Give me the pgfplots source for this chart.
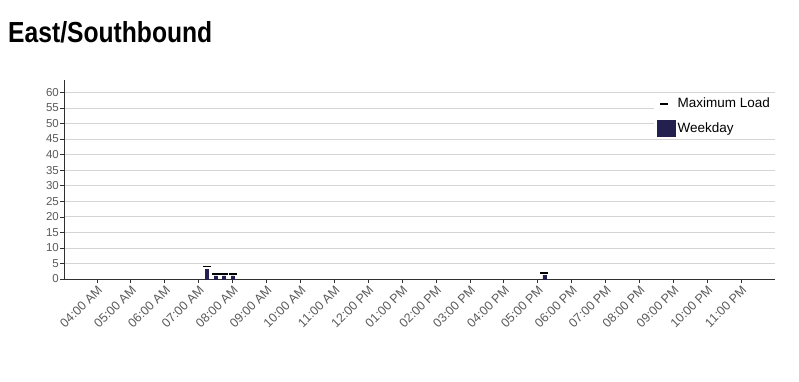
\documentclass[border=0pt]{standalone}
\usepackage{pgfplots}
\pgfplotsset{compat=1.18}
\usepackage{fontspec}
\setmainfont{Liberation Sans}
\definecolor{navy}{HTML}{23204F}
\definecolor{ticktext}{HTML}{5A5A5A}
\definecolor{gridc}{HTML}{D4D4D4}
\definecolor{axisc}{HTML}{303030}
\begin{document}
\begin{tikzpicture}
\path[use as bounding box] (0pt,0pt) rectangle (799pt,381pt);
\node[anchor=base west, inner sep=0pt] at (8pt,338pt) {\scalebox{0.85}[1]{\fontsize{29}{32}\selectfont\bfseries East/Southbound}};
\begin{axis}[
  at={(64pt,102pt)}, anchor=south west,
  scale only axis, width=711pt, height=199pt,
  xmin=3.03, xmax=24, ymin=0, ymax=64,
  axis lines=left, axis line style={axisc, line width=1pt, -},
  /pgf/number format/assume math mode=true,
  xtick={4,...,23},
  xticklabels={04:00 AM,05:00 AM,06:00 AM,07:00 AM,08:00 AM,09:00 AM,10:00 AM,11:00 AM,12:00 PM,01:00 PM,02:00 PM,03:00 PM,04:00 PM,05:00 PM,06:00 PM,07:00 PM,08:00 PM,09:00 PM,10:00 PM,11:00 PM},
  x tick label style={rotate=45, anchor=north east, font=\fontsize{12.5}{13}\selectfont, text=ticktext, inner sep=1pt},
  ytick={0,5,...,60},
  y tick label style={font=\fontsize{11.5}{12}\selectfont, text=ticktext, inner sep=1pt},
  tick align=outside, major tick length=4pt,
  tick style={axisc, line width=0.6pt},
  ymajorgrids, grid style={gridc, line width=0.8pt},
  legend style={draw=none, fill=white, at={(1,0.93)}, anchor=north east, font=\fontsize{13.5}{15}\selectfont, row sep=9pt, cells={anchor=west}, inner xsep=3pt},
  legend cell align=left,
]
\addplot[only marks, mark=-, mark size=4pt, mark options={line width=1.6pt, black}] coordinates {
  (7.25,4) (7.5,1.6) (7.75,1.6) (8.0,1.6) (17.2,2)
};
\addlegendentry{Maximum Load}
\addplot[ybar, bar width=3pt, fill=navy, draw=navy,
  legend image code/.code={\fill[navy] (2pt,-8pt) rectangle (20pt,8pt);}] coordinates {
  (7.25,3) (7.5,1) (7.75,1) (8.0,1) (17.2,1.2)
};
\addlegendentry{Weekday}
\end{axis}
\end{tikzpicture}
\end{document}
